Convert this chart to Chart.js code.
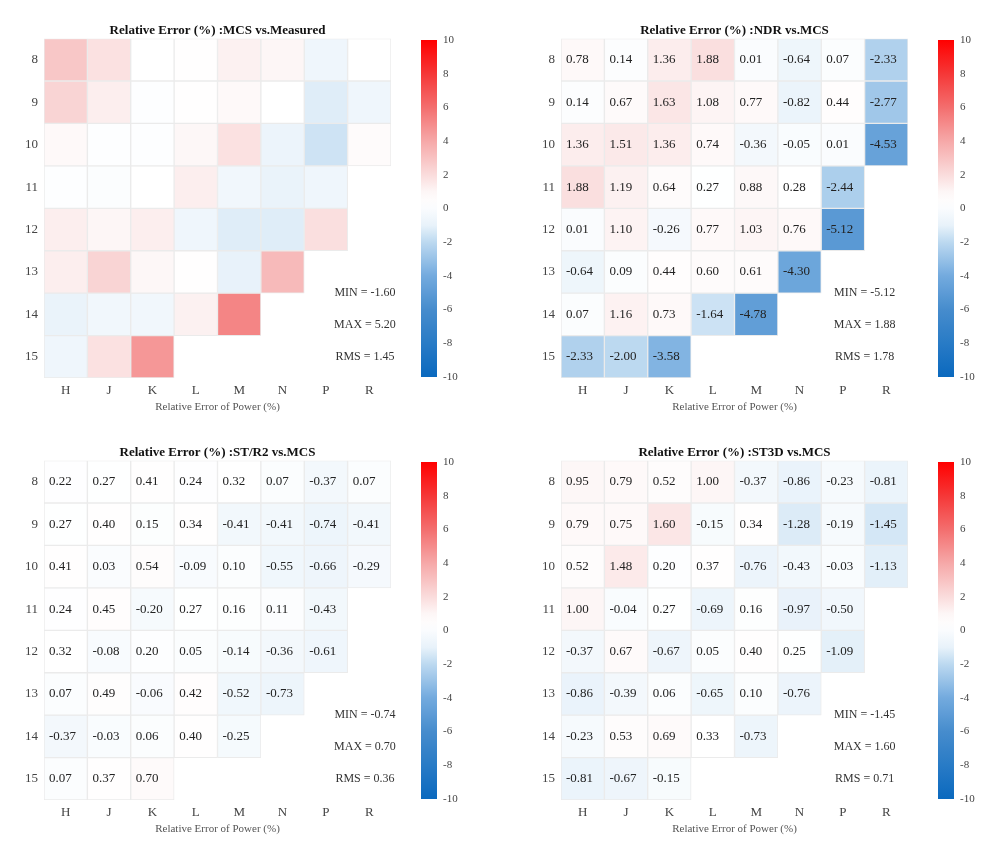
<!DOCTYPE html>
<html>
<head>
<meta charset="utf-8">
<script src="https://cdn.jsdelivr.net/npm/chart.js@4.4.1/dist/chart.umd.min.js"></script>
<style>
  body { margin: 0; background: #fff; width: 1008px; height: 855px; position: relative; overflow: hidden; }
  canvas { position: absolute; }
</style>
</head>
<body>
<script>
const columns = ["H", "J", "K", "L", "M", "N", "P", "R"];
const rows = [8, 9, 10, 11, 12, 13, 14, 15];
const colorTicks = [-10, -8, -6, -4, -2, 0, 2, 4, 6, 8, 10];

const panelTitles = [
  "Relative Error (%) :MCS vs.Measured",
  "Relative Error (%) :NDR vs.MCS",
  "Relative Error (%) :ST/R2 vs.MCS",
  "Relative Error (%) :ST3D vs.MCS"
];

// no numbers printed on this one
const mcsVsMeasured = [
  [2.8, 1.8, 0.3, 0.4, 1.2, 1.0, -0.6, 0.3],
  [2.3, 1.3, 0.2, 0.4, 0.8, 0.3, -1.2, -0.6],
  [0.8, 0.2, 0.2, 0.9, 1.8, -0.8, -1.6, 0.6],
  [0.2, 0.1, 0.3, 1.3, -0.5, -0.9, -0.6],
  [1.3, 1.0, 1.3, -0.6, -1.2, -1.2, 1.9],
  [1.3, 2.3, 0.9, 0.4, -1.0, 3.3],
  [-0.9, -0.5, -0.5, 1.2, 5.2],
  [-0.6, 1.8, 4.6]
];

const ndrVsMcs = [
  [0.78, 0.14, 1.36, 1.88, 0.01, -0.64, 0.07, -2.33],
  [0.14, 0.67, 1.63, 1.08, 0.77, -0.82, 0.44, -2.77],
  [1.36, 1.51, 1.36, 0.74, -0.36, -0.05, 0.01, -4.53],
  [1.88, 1.19, 0.64, 0.27, 0.88, 0.28, -2.44],
  [0.01, 1.10, -0.26, 0.77, 1.03, 0.76, -5.12],
  [-0.64, 0.09, 0.44, 0.60, 0.61, -4.30],
  [0.07, 1.16, 0.73, -1.64, -4.78],
  [-2.33, -2.00, -3.58]
];

const str2VsMcs = [
  [0.22, 0.27, 0.41, 0.24, 0.32, 0.07, -0.37, 0.07],
  [0.27, 0.40, 0.15, 0.34, -0.41, -0.41, -0.74, -0.41],
  [0.41, 0.03, 0.54, -0.09, 0.10, -0.55, -0.66, -0.29],
  [0.24, 0.45, -0.20, 0.27, 0.16, 0.11, -0.43],
  [0.32, -0.08, 0.20, 0.05, -0.14, -0.36, -0.61],
  [0.07, 0.49, -0.06, 0.42, -0.52, -0.73],
  [-0.37, -0.03, 0.06, 0.40, -0.25],
  [0.07, 0.37, 0.70]
];

const st3dVsMcs = [
  [0.95, 0.79, 0.52, 1.00, -0.37, -0.86, -0.23, -0.81],
  [0.79, 0.75, 1.60, -0.15, 0.34, -1.28, -0.19, -1.45],
  [0.52, 1.48, 0.20, 0.37, -0.76, -0.43, -0.03, -1.13],
  [1.00, -0.04, 0.27, -0.69, 0.16, -0.97, -0.50],
  [-0.37, 0.67, -0.67, 0.05, 0.40, 0.25, -1.09],
  [-0.86, -0.39, 0.06, -0.65, 0.10, -0.76],
  [-0.23, 0.53, 0.69, 0.33, -0.73],
  [-0.81, -0.67, -0.15]
];

const statsMin = [-1.60, -5.12, -0.74, -1.45];
const statsMax = [5.20, 1.88, 0.70, 1.60];
const statsRms = [1.45, 1.78, 0.36, 0.71];

const serif = "'Liberation Serif', 'Times New Roman', serif";

// diverging blue - white - red map, -10..10
const cmapStops = [
  [-10, [10, 105, 190]],
  [-6, [70, 140, 205]],
  [-4, [115, 170, 222]],
  [-2, [188, 217, 240]],
  [-1, [232, 242, 250]],
  [0.3, [255, 255, 255]],
  [1.0, [253, 246, 246]],
  [2, [250, 220, 220]],
  [4, [246, 168, 168]],
  [6, [243, 110, 110]],
  [8, [245, 55, 55]],
  [10, [255, 0, 0]]
];

function colorFor(v) {
  v = Math.max(-10, Math.min(10, v));
  for (let i = 1; i < cmapStops.length; i++) {
    const [v1, c1] = cmapStops[i];
    const [v0, c0] = cmapStops[i - 1];
    if (v <= v1) {
      const t = (v - v0) / (v1 - v0);
      const c = c0.map((a, k) => Math.round(a + (c1[k] - a) * t));
      return `rgb(${c[0]},${c[1]},${c[2]})`;
    }
  }
  return "rgb(255,0,0)";
}

const cellText = {
  id: "cellText",
  afterDatasetsDraw(chart, args, opts) {
    if (!opts.show) return;
    const ctx = chart.ctx;
    ctx.save();
    ctx.font = "13px " + serif;
    ctx.fillStyle = "#222";
    ctx.textAlign = "left";
    ctx.textBaseline = "middle";
    chart.data.datasets.forEach((ds, i) => {
      chart.getDatasetMeta(i).data.forEach((bar, j) => {
        const v = ds.values[j];
        if (v == null) return;
        const p = bar.getProps(["x", "y", "base", "width"], true);
        ctx.fillText(v.toFixed(2), p.x - p.width / 2 + 5, (p.y + p.base) / 2);
      });
    });
    ctx.restore();
  }
};

const statsText = {
  id: "statsText",
  afterDraw(chart, args, opts) {
    const ctx = chart.ctx;
    const xs = chart.scales.x, ys = chart.scales.y;
    const x = xs.getPixelForValue(opts.at);
    ctx.save();
    ctx.font = "12px " + serif;
    ctx.fillStyle = "#333";
    ctx.textAlign = "center";
    ctx.textBaseline = "middle";
    ctx.fillText("MIN = " + opts.min.toFixed(2), x, ys.getPixelForValue(13.5));
    ctx.fillText("MAX = " + opts.max.toFixed(2), x, ys.getPixelForValue(14.25));
    ctx.fillText("RMS = " + opts.rms.toFixed(2), x, ys.getPixelForValue(15.0));
    ctx.restore();
  }
};

const gradientBar = {
  id: "gradientBar",
  beforeDatasetsDraw(chart) {
    const ctx = chart.ctx, area = chart.chartArea, ys = chart.scales.y;
    const top = ys.getPixelForValue(10), bottom = ys.getPixelForValue(-10);
    const g = ctx.createLinearGradient(0, bottom, 0, top);
    for (let v = -10; v <= 10; v += 0.5) g.addColorStop((v + 10) / 20, colorFor(v));
    ctx.save();
    ctx.fillStyle = g;
    ctx.fillRect(area.left, top, area.right - area.left, bottom - top);
    ctx.restore();
  }
};

function addCanvas(left, top, w, h) {
  const c = document.createElement("canvas");
  c.width = w; c.height = h;
  c.style.left = left + "px"; c.style.top = top + "px";
  c.style.width = w + "px"; c.style.height = h + "px";
  document.body.appendChild(c);
  return c;
}

function drawPanel(idx, matrix, plotLeft, top, showValues, statsAt) {
  const datasets = rows.map((r, i) => {
    const vals = columns.map((c, j) => (matrix[i][j] === undefined ? null : matrix[i][j]));
    return {
      label: String(r),
      values: vals,
      data: vals.map(v => (v == null ? null : [r - 0.5, r + 0.5])),
      backgroundColor: vals.map(v => (v == null ? "rgba(0,0,0,0)" : colorFor(v))),
      borderColor: "#ebebeb",
      borderWidth: 1,
      borderSkipped: false,
      grouped: false,
      barPercentage: 1,
      categoryPercentage: 1
    };
  });

  new Chart(addCanvas(plotLeft - 44, top, 400, 420), {
    type: "bar",
    data: { labels: columns, datasets },
    options: {
      responsive: false,
      animation: false,
      layout: { padding: { left: 4, right: 9, top: 15, bottom: 4 } },
      plugins: {
        legend: { display: false },
        tooltip: { enabled: false },
        title: {
          display: true,
          text: panelTitles[idx],
          fullSize: false,
          color: "#111",
          font: { family: serif, size: 13, weight: "bold" },
          padding: { top: 8, bottom: 0 }
        },
        cellText: { show: showValues },
        statsText: { at: statsAt, min: statsMin[idx], max: statsMax[idx], rms: statsRms[idx] }
      },
      scales: {
        x: {
          grid: { display: false, drawTicks: false },
          border: { display: false },
          ticks: { padding: 5, color: "#444", font: { family: serif, size: 13 } },
          title: {
            display: true,
            text: "Relative Error of Power (%)",
            color: "#555",
            font: { family: serif, size: 11 },
            padding: { top: 0, bottom: 2 }
          },
          afterFit: s => { s.height = 38; }
        },
        y: {
          type: "linear",
          min: 7.5,
          max: 15.5,
          reverse: true,
          grid: { display: false, drawTicks: false },
          border: { display: false },
          afterBuildTicks: s => { s.ticks = rows.map(v => ({ value: v })); },
          ticks: { padding: 6, color: "#444", font: { family: serif, size: 13 } },
          afterFit: s => { s.width = 40; }
        }
      }
    },
    plugins: [cellText, statsText]
  });

  new Chart(addCanvas(plotLeft + 377, top, 46, 420), {
    type: "bar",
    data: { labels: [""], datasets: [] },
    options: {
      responsive: false,
      animation: false,
      layout: { padding: { left: 0, right: 0, top: 40, bottom: 43 } },
      plugins: { legend: { display: false }, tooltip: { enabled: false } },
      scales: {
        x: { display: false },
        y: {
          position: "right",
          min: -10,
          max: 10,
          grid: { display: false, drawTicks: false },
          border: { display: false },
          afterBuildTicks: s => { s.ticks = colorTicks.map(v => ({ value: v })); },
          ticks: { padding: 6, color: "#444", font: { family: serif, size: 11 } },
          afterFit: s => { s.width = 30; }
        }
      }
    },
    plugins: [gradientBar]
  });
}

drawPanel(0, mcsVsMeasured, 44, 0, false, 6.9);
drawPanel(1, ndrVsMcs, 561, 0, true, 6.5);
drawPanel(2, str2VsMcs, 44, 422, true, 6.9);
drawPanel(3, st3dVsMcs, 561, 422, true, 6.5);
</script>
</body>
</html>
